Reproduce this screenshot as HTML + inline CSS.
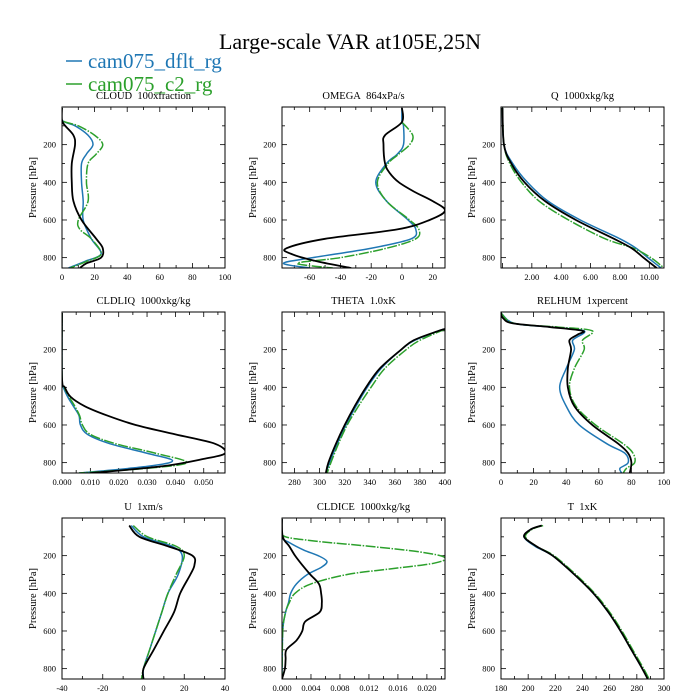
<!DOCTYPE html>
<html><head><meta charset="utf-8">
<style>
body{margin:0;background:#fff;}
svg{display:block;font-family:"Liberation Serif",serif;}
</style></head>
<body>
<svg id="chart" width="700" height="700" viewBox="0 0 700 700">
<rect width="700" height="700" fill="#fff"/>
<text x="350" y="49" font-size="22" text-anchor="middle">Large-scale VAR at105E,25N</text>
<g>
<g><line x1="66" y1="61" x2="82" y2="61" stroke="#1f77b4" stroke-width="1.5"/><text x="88" y="68" font-size="21" fill="#1f77b4">cam075_dflt_rg</text></g>
<g><line x1="66" y1="84" x2="82" y2="84" stroke="#2ca02c" stroke-width="1.5"/><text x="88" y="91" font-size="21" fill="#2ca02c">cam075_c2_rg</text></g>
</g>
</svg>
<script>
const panelTitles=["CLOUD\u00a0\u00a0100xfraction","OMEGA\u00a0\u00a0864xPa/s","Q\u00a0\u00a01000xkg/kg","CLDLIQ\u00a0\u00a01000xkg/kg","THETA\u00a0\u00a01.0xK","RELHUM\u00a0\u00a01xpercent","U\u00a0\u00a01xm/s","CLDICE\u00a0\u00a01000xkg/kg","T\u00a0\u00a01xK"];
const panelNames=["cloud","omega","q","cldliq","theta","relhum","u","cldice","t"];
const xDomains=[[0,100],[-78,28],[-0.1,11],[0,0.0575],[270,400],[0,100],[-40,40],[0,0.0225],[180,300]];
const xTickLabels=[["0","20","40","60","80","100"],["-60","-40","-20","0","20"],["2.00","4.00","6.00","8.00","10.00"],["0.000","0.010","0.020","0.030","0.040","0.050"],["280","300","320","340","360","380","400"],["0","20","40","60","80","100"],["-40","-20","0","20","40"],["0.000","0.004","0.008","0.012","0.016","0.020"],["180","200","220","240","260","280","300"]];
const xTickValues=[[0,20,40,60,80,100],[-60,-40,-20,0,20],[2,4,6,8,10],[0,0.01,0.02,0.03,0.04,0.05],[280,300,320,340,360,380,400],[0,20,40,60,80,100],[-40,-20,0,20,40],[0,0.004,0.008,0.012,0.016,0.02],[180,200,220,240,260,280,300]];
const yTickValues=[200,400,600,800];
const seriesNames=["cam075_dflt_rg","cam075_c2_rg","obs"];
const cloudP_k=[5,70,100,150,200,300,400,500,600,700,750,800,830,855], cloudV_k=[0,0,2,7,8,6,6,7,12,21,25,24,15,11];
const cloudP_b=[5,70,100,150,200,250,300,400,500,600,700,780,820,855], cloudV_b=[0,0,8,16,19,15,12,12,13,13,18,24,14,4];
const cloudP_g=[5,70,100,150,200,250,300,400,500,600,650,700,780,820,855], cloudV_g=[0,0,10,20,25,21,16,15,16,10,11,18,24,15,5];
const omegaP_k=[5,80,150,200,300,350,400,450,500,550,600,650,700,750,780,820,855], omegaV_k=[0,0,-11,-12,-11,-8,-2,8,20,28,18,-3,-50,-75,-72,-55,-33];
const omegaP_b=[5,80,100,200,250,300,400,500,600,650,700,750,800,830,855], omegaV_b=[0,0,1,1,-3,-10,-17,-10,4,9,6,-20,-58,-77,-60];
const omegaP_g=[80,150,200,250,300,400,500,600,650,700,750,800,830,855], omegaV_g=[0,7,5,-2,-9,-16,-10,5,11,9,-10,-40,-68,-45];
const qP_k=[5,200,300,400,500,600,700,750,800,855], qV_k=[0,0.1,0.6,1.5,2.9,5.0,7.6,8.8,9.6,10.5];
const qP_b=[5,200,300,400,500,600,700,750,800,855], qV_b=[0,0.1,0.7,1.7,3.1,5.3,8.0,9.1,9.9,10.8];
const qP_g=[5,200,300,400,500,600,700,750,800,855], qV_g=[0,0.1,0.5,1.3,2.5,4.5,7.0,8.9,10.1,11.0];
const liqP_k=[5,350,400,450,500,550,600,650,700,750,780,820,855], liqV_k=[0,0,0.001,0.003,0.008,0.016,0.026,0.040,0.054,0.0575,0.050,0.035,0.010];
const liqP_b=[5,350,400,450,500,550,600,650,700,750,790,820,855], liqV_b=[0,0,0.0005,0.002,0.004,0.006,0.0065,0.009,0.017,0.030,0.039,0.030,0.006];
const liqP_g=[5,350,400,450,500,550,600,650,700,750,800,830,855], liqV_g=[0,0,0.0008,0.0025,0.0045,0.0062,0.0072,0.010,0.019,0.033,0.044,0.030,0.006];
const thP_k=[90,100,150,200,300,400,500,600,700,800,855], thV_k=[400,395,375,365,348,337,328,320,313,307,305];
const thP_b=[90,100,150,200,300,400,500,600,700,800,855], thV_b=[400,395,376,365,349,338,329,321,314,308,305];
const thP_g=[95,100,150,200,300,400,500,600,700,800,855], thV_g=[400,397,380,369,352,341,331,322,315,309,306];
const rhP_k=[5,30,60,80,100,120,150,200,300,400,500,600,700,750,800,855], rhV_k=[0,1,7,30,50,47,42,43,41,41,45,56,72,78,80,79];
const rhP_b=[5,60,80,100,150,200,300,400,500,600,700,750,800,830,855], rhV_b=[0,8,30,51,44,45,40,36,40,48,65,76,78,73,74];
const rhP_g=[5,60,80,100,150,200,300,400,500,600,700,750,800,830,855], rhV_g=[0,8,35,56,50,51,45,42,46,58,75,81,82,77,75];
const uP_k=[40,100,150,200,250,300,400,500,600,700,800,855], uV_k=[-7,-2,12,24,25,23,18,15,10,5,0,0];
const uP_b=[40,100,150,200,300,400,500,600,700,800,855], uV_b=[-6,0,14,19,17,12,9,6,3,0,0];
const uP_g=[40,100,150,200,300,400,500,600,700,800,855], uV_g=[-5,2,16,20,16,12,9,6,3,0,-1];
const iceP_k=[5,100,150,200,250,300,350,400,450,500,550,600,650,700,750,800,855], iceV_k=[0,0.0001,0.001,0.0018,0.0028,0.0039,0.0051,0.0054,0.0055,0.0052,0.0032,0.0028,0.002,0.0006,0.0005,0.0004,0];
const iceP_b=[5,100,130,170,200,230,260,300,350,400,450,500,600,855], iceV_b=[0,0,0.001,0.003,0.005,0.0062,0.0055,0.0035,0.002,0.0012,0.0009,0.0005,0.0001,0];
const iceP_g=[5,90,120,150,180,210,240,270,300,350,400,450,500,600,855], iceV_g=[0,0,0.004,0.012,0.019,0.0225,0.021,0.015,0.009,0.004,0.0018,0.001,0.0005,0.0001,0];
const tP_k=[40,60,100,150,200,300,400,500,600,700,800,855], tV_k=[210,202,197,206,218,234,248,259,268,276,284,288];
const tP_b=[40,60,100,150,200,300,400,500,600,700,800,855], tV_b=[210,202,197,205,218,234,248,259,268,276,284,288];
const tP_g=[40,60,100,150,200,300,400,500,600,700,800,855], tV_g=[211,203,198,206,219,235,249,260,269,277,285,289];
const panelSeries=[
 [[cloudP_b,cloudV_b],[cloudP_g,cloudV_g],[cloudP_k,cloudV_k]],
 [[omegaP_b,omegaV_b],[omegaP_g,omegaV_g],[omegaP_k,omegaV_k]],
 [[qP_b,qV_b],[qP_g,qV_g],[qP_k,qV_k]],
 [[liqP_b,liqV_b],[liqP_g,liqV_g],[liqP_k,liqV_k]],
 [[thP_b,thV_b],[thP_g,thV_g],[thP_k,thV_k]],
 [[rhP_b,rhV_b],[rhP_g,rhV_g],[rhP_k,rhV_k]],
 [[uP_b,uV_b],[uP_g,uV_g],[uP_k,uV_k]],
 [[iceP_b,iceV_b],[iceP_g,iceV_g],[iceP_k,iceV_k]],
 [[tP_b,tV_b],[tP_g,tV_g],[tP_k,tV_k]]
];
const NS="http://www.w3.org/2000/svg";
const svg=document.getElementById('chart');
const colLeft=[62,282,501], rowTop=[107,312,518], W=163, H=161, PMAX=855;
const colors=["#1f77b4","#2ca02c","#000000"];
function mk(tag,attrs,parent){const e=document.createElementNS(NS,tag);for(const k in attrs)e.setAttribute(k,attrs[k]);parent.appendChild(e);return e;}
function smoothPath(pts){
 let d="M"+pts[0][0].toFixed(2)+","+pts[0][1].toFixed(2);
 for(let i=0;i<pts.length-1;i++){
  const p0=pts[Math.max(0,i-1)],p1=pts[i],p2=pts[i+1],p3=pts[Math.min(pts.length-1,i+2)];
  const c1=[p1[0]+(p2[0]-p0[0])/6,p1[1]+(p2[1]-p0[1])/6];
  const c2=[p2[0]-(p3[0]-p1[0])/6,p2[1]-(p3[1]-p1[1])/6];
  d+=" C"+c1[0].toFixed(2)+","+c1[1].toFixed(2)+" "+c2[0].toFixed(2)+","+c2[1].toFixed(2)+" "+p2[0].toFixed(2)+","+p2[1].toFixed(2);
 }
 return d;
}
for(let i=0;i<9;i++){
 const L=colLeft[i%3],T=rowTop[Math.floor(i/3)];
 const [x0,x1]=xDomains[i];
 const xs=v=>L+(v-x0)/(x1-x0)*W;
 const ys=p=>T+p/PMAX*H;
 const g=mk('g',{},svg);
 
 
 const tt=mk('text',{x:L+W/2,y:T-8,'font-size':10.5,'text-anchor':'middle'},g);
 tt.textContent=panelTitles[i];
 
 
 const clip=mk('clipPath',{id:'c'+i},g);mk('rect',{x:L,y:T,width:W,height:H},clip);
 const tg=mk('g',{stroke:'#000','stroke-width':0.8},g);
 
 
 for(let p=100;p<PMAX;p+=100){const len=(p%200===0)?5:3;
  mk('line',{x1:L,x2:L+len,y1:ys(p),y2:ys(p)},tg);mk('line',{x1:L+W,x2:L+W-len,y1:ys(p),y2:ys(p)},tg);}
 const tv=xTickValues[i];const step=tv[1]-tv[0];
 for(let k=-2;k<=tv.length*2+2;k++){const v=tv[0]+k*step/2;if(v<x0-1e-9||v>x1+1e-9)continue;const len=(k%2===0)?5:3;
  mk('line',{x1:xs(v),x2:xs(v),y1:T+H,y2:T+H-len},tg);mk('line',{x1:xs(v),x2:xs(v),y1:T,y2:T+len},tg);}
 tv.forEach((v,j)=>{const t=mk('text',{x:xs(v),y:T+H+12,'font-size':8.5,'text-anchor':'middle'},g);t.textContent=xTickLabels[i][j];
  
  });
 yTickValues.forEach(p=>{const t=mk('text',{x:L-6,y:ys(p)+3,'font-size':8.5,'text-anchor':'end'},g);t.textContent=String(p);
  
  });
 const yl=mk('text',{x:0,y:0,'font-size':10.5,'text-anchor':'middle',transform:`translate(${L-26},${T+H/2}) rotate(-90)`},g);
 yl.textContent="Pressure [hPa]";
 
 
 const sg=mk('g',{'clip-path':`url(#c${i})`},g);
 panelSeries[i].forEach((s,j)=>{
  const pts=s[0].map((p,k)=>[xs(s[1][k]),ys(p)]);
  const a={d:smoothPath(pts),fill:'none',stroke:colors[j],'stroke-width':j===2?1.8:1.5};
  if(j===1)a['stroke-dasharray']='10,1.5,1.5,1.5';
  const path=mk('path',a,sg);
  
  
 });
 const fr=mk('rect',{x:L,y:T,width:W,height:H,fill:'none',stroke:'#000','stroke-width':1},g);
 
 
}
</script>
</body></html>
